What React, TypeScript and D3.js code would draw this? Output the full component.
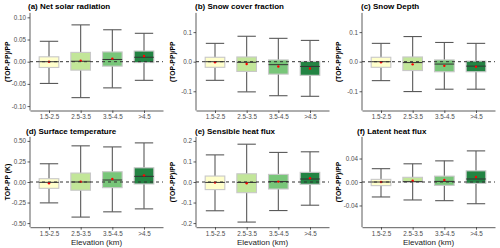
import React, { useEffect, useRef } from "react";
import * as d3 from "d3";

// categories
const elevations = ["1.5-2.5", "2.5-3.5", "3.5-4.5", ">4.5"];
const boxColors = ["#ffffcc", "#c2e699", "#78c679", "#238443"];

const panelTitles = [
  "(a) Net solar radiation",
  "(b) Snow cover fraction",
  "(c) Snow Depth",
  "(d) Surface temperature",
  "(e) Sensible heat flux",
  "(f) Latent heat flux",
];
const yTitles = ["(TOP-PP)/PP", "(TOP-PP)/PP", "(TOP-PP)/PP", "TOP-PP (K)", "(TOP-PP)/PP", "(TOP-PP)/PP"];
const yLimits = [0.1, 0.15, 0.15, 0.5, 0.2, 0.07];
const yTicks = [
  [-0.1, -0.05, 0, 0.05, 0.1],
  [-0.1, 0, 0.1],
  [-0.1, 0, 0.1],
  [-0.5, -0.25, 0, 0.25, 0.5],
  [-0.2, -0.1, 0, 0.1, 0.2],
  [-0.04, 0, 0.04],
];
const yDigits = [2, 1, 1, 2, 1, 2];

// per elevation: [lower whisker, q1, median, q3, upper whisker, mean]
const netSolar = [
  [-0.049, -0.013, 0.0, 0.011, 0.046, 0.0],
  [-0.081, -0.019, 0.001, 0.021, 0.083, 0.002],
  [-0.059, -0.010, 0.005, 0.022, 0.072, 0.007],
  [-0.042, -0.002, 0.010, 0.024, 0.064, 0.013],
];
const snowCover = [
  [-0.063, -0.019, 0.0, 0.015, 0.062, -0.002],
  [-0.102, -0.033, -0.002, 0.016, 0.086, -0.008],
  [-0.115, -0.042, -0.010, 0.006, 0.079, -0.016],
  [-0.117, -0.046, -0.016, 0.001, 0.072, -0.023],
];
const snowDepth = [
  [-0.064, -0.019, 0.0, 0.015, 0.062, -0.002],
  [-0.101, -0.030, -0.003, 0.016, 0.085, -0.009],
  [-0.093, -0.034, -0.008, 0.006, 0.065, -0.014],
  [-0.093, -0.034, -0.015, 0.002, 0.062, -0.017],
];
const surfaceTemp = [
  [-0.254, -0.077, -0.004, 0.040, 0.222, -0.016],
  [-0.427, -0.100, 0.0, 0.109, 0.440, 0.004],
  [-0.363, -0.069, 0.024, 0.125, 0.427, 0.036],
  [-0.327, -0.024, 0.069, 0.173, 0.476, 0.081],
];
const sensibleHeat = [
  [-0.140, -0.037, -0.002, 0.029, 0.132, -0.003],
  [-0.195, -0.052, -0.002, 0.040, 0.184, -0.006],
  [-0.139, -0.034, 0.002, 0.037, 0.144, 0.002],
  [-0.113, -0.011, 0.0145, 0.047, 0.147, 0.018],
];
const latentHeat = [
  [-0.0255, -0.0062, 0.0, 0.0045, 0.0227, 0.0],
  [-0.0306, 0.0, 0.0006, 0.008, 0.031, 0.0023],
  [-0.0318, -0.0057, 0.001, 0.010, 0.036, 0.0034],
  [-0.037, -0.0023, 0.0051, 0.019, 0.053, 0.0085],
];
const panelData = [netSolar, snowCover, snowDepth, surfaceTemp, sensibleHeat, latentHeat];

const App = () => {
  const svgRef = useRef<SVGSVGElement>(null);

  useEffect(() => {
    const svg = d3.select(svgRef.current);
    svg.selectAll("*").remove();

    const plotLeft = [30, 196, 362];
    const plotWidth = 133;
    const rows = [
      { top: 12.9, bottom: 110.5, titleY: 9, titleX: [28, 195, 361] },
      { top: 136.8, bottom: 227.2, titleY: 134, titleX: [26, 195, 357] },
    ];
    const yTitleX = [7.5, 172.5, 338];
    const font = "Arial, 'Liberation Sans', sans-serif";

    panelData.forEach((stats, i) => {
      const col = i % 3;
      const row = rows[Math.floor(i / 3)];
      const left = plotLeft[col];
      const lim = yLimits[i] * 1.1;

      const x = d3
        .scalePoint()
        .domain(elevations)
        .range([left, left + plotWidth])
        .padding(0.6);
      const y = d3.scaleLinear().domain([-lim, lim]).range([row.bottom, row.top]);
      const step = x.step();
      const boxW = step * 0.62;
      const capW = step * 0.58;

      const g = svg.append("g");

      // title
      g.append("text")
        .attr("x", row.titleX[col])
        .attr("y", row.titleY)
        .attr("font-family", font)
        .attr("font-size", 8)
        .attr("font-weight", "bold")
        .attr("fill", "#000")
        .text(panelTitles[i]);

      // y title
      const midY = (row.top + row.bottom) / 2;
      g.append("text")
        .attr("transform", `translate(${yTitleX[col]},${midY}) rotate(-90)`)
        .attr("text-anchor", "middle")
        .attr("dominant-baseline", "central")
        .attr("font-family", font)
        .attr("font-size", 6.8)
        .attr("font-weight", "bold")
        .attr("fill", "#000")
        .text(yTitles[i]);

      const boxes = g
        .selectAll(".box")
        .data(stats.map((s, k) => ({ s, k })))
        .join("g")
        .attr("class", "box");

      // whiskers
      boxes
        .append("line")
        .attr("x1", (d) => x(elevations[d.k])!)
        .attr("x2", (d) => x(elevations[d.k])!)
        .attr("y1", (d) => y(d.s[0]))
        .attr("y2", (d) => y(d.s[4]))
        .attr("stroke", "#595959")
        .attr("stroke-width", 1.1);
      [0, 4].forEach((idx) => {
        boxes
          .append("line")
          .attr("x1", (d) => x(elevations[d.k])! - capW / 2)
          .attr("x2", (d) => x(elevations[d.k])! + capW / 2)
          .attr("y1", (d) => y(d.s[idx]))
          .attr("y2", (d) => y(d.s[idx]))
          .attr("stroke", "#595959")
          .attr("stroke-width", 1.1);
      });

      // box
      boxes
        .append("rect")
        .attr("x", (d) => x(elevations[d.k])! - boxW / 2)
        .attr("width", boxW)
        .attr("y", (d) => y(d.s[3]))
        .attr("height", (d) => y(d.s[1]) - y(d.s[3]))
        .attr("fill", (d) => boxColors[d.k])
        .attr("stroke", "#c8c8c8")
        .attr("stroke-width", 1.1);

      // median
      boxes
        .append("line")
        .attr("x1", (d) => x(elevations[d.k])! - boxW / 2)
        .attr("x2", (d) => x(elevations[d.k])! + boxW / 2)
        .attr("y1", (d) => y(d.s[2]))
        .attr("y2", (d) => y(d.s[2]))
        .attr("stroke", "#333")
        .attr("stroke-width", 1);

      // mean
      boxes
        .append("circle")
        .attr("cx", (d) => x(elevations[d.k])!)
        .attr("cy", (d) => y(d.s[5]))
        .attr("r", 1.2)
        .attr("fill", "#ff0000");

      // zero line
      g.append("line")
        .attr("x1", left)
        .attr("x2", left + plotWidth)
        .attr("y1", y(0))
        .attr("y2", y(0))
        .attr("stroke", "#333")
        .attr("stroke-width", 1)
        .attr("stroke-dasharray", "3,3");

      // y axis
      const yAxis = g
        .append("g")
        .attr("transform", `translate(${left},0)`)
        .call(
          d3
            .axisLeft(y)
            .tickValues(yTicks[i])
            .tickSize(2.5)
            .tickSizeOuter(0)
            .tickPadding(1.5)
            .tickFormat((d) => d3.format(`.${yDigits[i]}f`)(d as number).replace("−", "-"))
        );
      yAxis.select(".domain").attr("d", `M0,${row.top}V${row.bottom}`);

      // x axis
      const xAxis = g
        .append("g")
        .attr("transform", `translate(0,${row.bottom})`)
        .call(d3.axisBottom(x).tickSize(2.5).tickSizeOuter(0).tickPadding(2));

      [yAxis, xAxis].forEach((a) => {
        a.select(".domain").attr("stroke", "#333").attr("stroke-width", 0.8);
        a.selectAll(".tick line").attr("stroke", "#333").attr("stroke-width", 0.8);
        a.selectAll(".tick text")
          .attr("font-family", font)
          .attr("font-size", 6.3)
          .attr("fill", "#4d4d4d");
      });

      if (Math.floor(i / 3) === 1) {
        g.append("text")
          .attr("x", left + plotWidth / 2)
          .attr("y", 245)
          .attr("text-anchor", "middle")
          .attr("font-family", font)
          .attr("font-size", 8)
          .attr("fill", "#222")
          .text("Elevation (km)");
      }
    });
  }, []);

  return (
    <svg
      ref={svgRef}
      width={500}
      height={248}
      style={{ position: "absolute", left: 0, top: 0, background: "#fff" }}
    />
  );
};

export default App;
